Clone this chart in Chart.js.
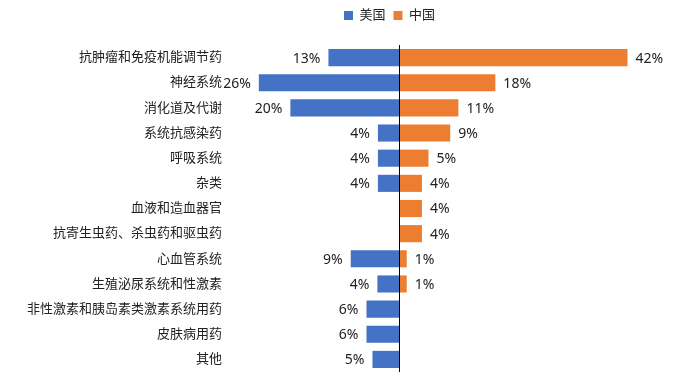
<!DOCTYPE html>
<html>
<head>
<meta charset="utf-8">
<script src="https://cdn.jsdelivr.net/npm/chart.js@4"></script>
<style>
  html, body { margin: 0; padding: 0; background: #fff; }
  #wrap { width: 688px; height: 385px; }
</style>
</head>
<body>
<div id="wrap"><canvas id="grafico"></canvas></div>
<script>
const categorias = [
  "抗肿瘤和免疫机能调节药", "神经系统", "消化道及代谢", "系统抗感染药", "呼吸系统",
  "杂类", "血液和造血器官", "抗寄生虫药、杀虫药和驱虫药", "心血管系统",
  "生殖泌尿系统和性激素", "非性激素和胰岛素类激素系统用药", "皮肤病用药", "其他"
];
const series = ["美国", "中国"];
// share of each category, in %
const usa = [13, 25.8, 20, 3.9, 3.9, 3.9, null, null, 8.9, 4, 6, 6, 4.9];
const china = [42, 17.7, 10.9, 9.4, 5.4, 4.2, 4.2, 4.2, 1.4, 1.4, null, null, null];

const fuente = '"Noto Sans", "Noto Sans CJK SC", sans-serif';

// zero line at the middle
const lineaCero = {
  id: "lineaCero",
  afterDatasetsDraw(chart) {
    const { ctx, chartArea, scales } = chart;
    const x = Math.round(scales.x.getPixelForValue(0)) + 0.5;
    ctx.save();
    ctx.strokeStyle = "#000";
    ctx.lineWidth = 1;
    ctx.beginPath();
    ctx.moveTo(x, chartArea.top);
    ctx.lineTo(x, chartArea.bottom);
    ctx.stroke();
    ctx.restore();
  }
};

// value labels beside each bar
const etiquetas = {
  id: "etiquetas",
  afterDatasetsDraw(chart) {
    const { ctx } = chart;
    ctx.save();
    ctx.font = "14px " + fuente;
    ctx.fillStyle = "#222";
    ctx.textBaseline = "middle";
    chart.data.datasets.forEach((ds, i) => {
      chart.getDatasetMeta(i).data.forEach((bar, j) => {
        const v = ds.data[j];
        if (v === null) return;
        const txt = Math.round(Math.abs(v)) + "%";
        if (v < 0) {
          ctx.textAlign = "right";
          ctx.fillText(txt, bar.x - 8, bar.y + 1);
        } else {
          ctx.textAlign = "left";
          ctx.fillText(txt, bar.x + 8, bar.y + 1);
        }
      });
    });
    ctx.restore();
  }
};

// move the legend, like in the original
const moverLeyenda = {
  id: "moverLeyenda",
  afterLayout(chart) {
    chart.legend.left += 54;
    chart.legend.right += 54;
    chart.legend.top -= 13;
    chart.legend.bottom -= 13;
  }
};

const ctx = document.getElementById("grafico").getContext("2d");
const grafico = new Chart(ctx, {
  type: "bar",
  data: {
    labels: categorias,
    datasets: [
      {
        label: series[0],
        data: usa.map(v => v === null ? null : -v),
        backgroundColor: "#4472C4",
        barPercentage: 0.68,
        categoryPercentage: 1
      },
      {
        label: series[1],
        data: china,
        backgroundColor: "#ED7D31",
        barPercentage: 0.68,
        categoryPercentage: 1
      }
    ]
  },
  options: {
    indexAxis: "y",
    responsive: true,
    maintainAspectRatio: false,
    animation: false,
    layout: { padding: { top: 14, right: 17, bottom: 13, left: 0 } },
    plugins: {
      legend: {
        position: "top",
        labels: {
          boxWidth: 9,
          boxHeight: 9,
          padding: 8,
          color: "#222",
          font: { family: fuente, size: 13 }
        }
      },
      tooltip: { enabled: false }
    },
    scales: {
      x: {
        display: false,
        stacked: true,
        min: -30,
        max: 50
      },
      y: {
        stacked: true,
        grid: { display: false, drawTicks: false },
        border: { display: false },
        ticks: {
          padding: 14,
          color: "#222",
          font: { family: fuente, size: 13 }
        },
        afterFit(scale) {
          scale.width = 236;
          scale.paddingTop = 0;
          scale.paddingBottom = 0;
        }
      }
    }
  },
  plugins: [lineaCero, etiquetas, moverLeyenda]
});
</script>
</body>
</html>
